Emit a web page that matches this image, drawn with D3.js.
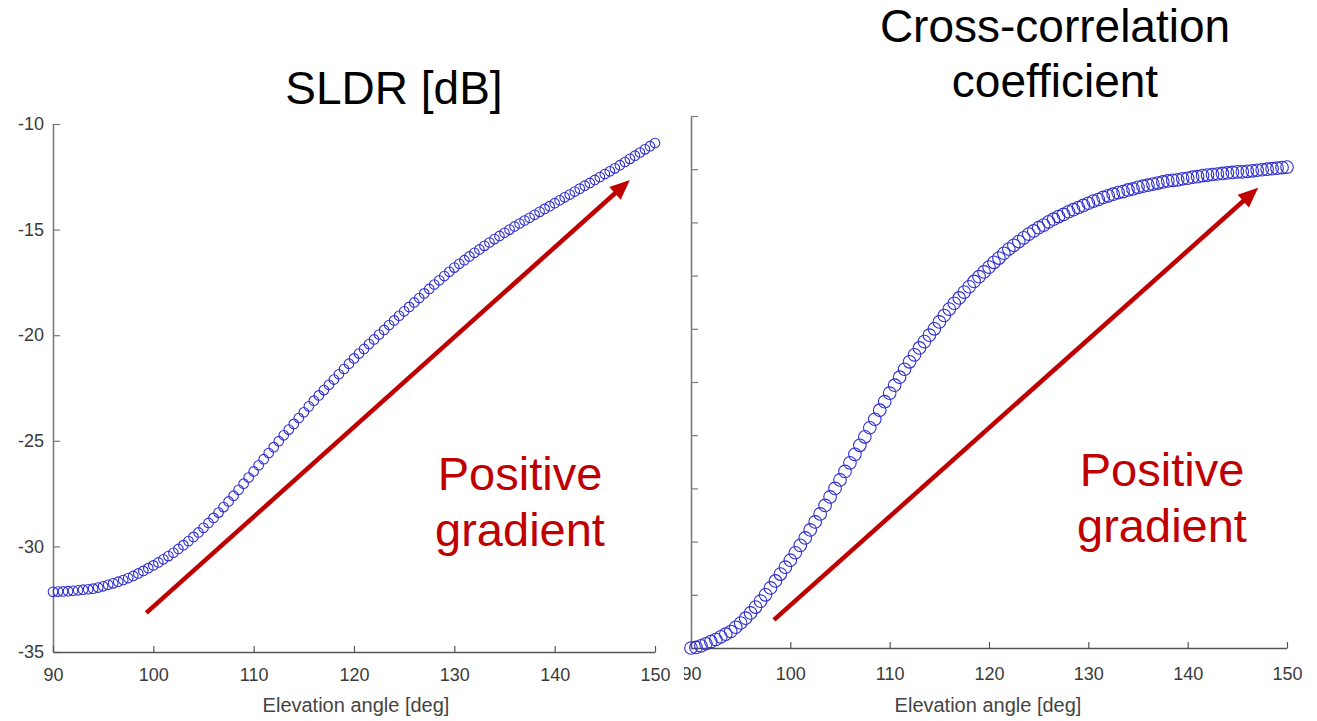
<!DOCTYPE html>
<html>
<head>
<meta charset="utf-8">
<script src="https://cdn.jsdelivr.net/npm/d3@7"></script>
<style>
  body { margin: 0; background: #fff; }
  svg  { display: block; }
  text { font-family: "Liberation Sans", Arial, Helvetica, sans-serif; }
</style>
</head>
<body>
<svg id="chart" width="1317" height="721"></svg>
<script>
// ── Data ─────────────────────────────────────────────
const angles = d3.range(90, 150.001, 0.5)

const sldr = [
  -32.15, -32.14, -32.13, -32.12, -32.10, -32.08, -32.05, -32.03, -32.00, -31.95,
  -31.89, -31.82, -31.75, -31.67, -31.59, -31.50, -31.40, -31.28, -31.16, -31.03,
  -30.90, -30.76, -30.61, -30.46, -30.30, -30.12, -29.94, -29.75, -29.55, -29.34,
  -29.12, -28.89, -28.65, -28.40, -28.14, -27.87, -27.60, -27.32, -27.03, -26.74,
  -26.45, -26.16, -25.87, -25.58, -25.30, -25.02, -24.74, -24.47, -24.20, -23.92,
  -23.65, -23.37, -23.10, -22.85, -22.60, -22.35, -22.10, -21.85, -21.60, -21.35,
  -21.10, -20.87, -20.65, -20.42, -20.20, -19.97, -19.75, -19.52, -19.30, -19.08,
  -18.87, -18.66, -18.45, -18.24, -18.02, -17.81, -17.60, -17.40, -17.20, -17.00,
  -16.80, -16.62, -16.45, -16.27, -16.10, -15.94, -15.77, -15.61, -15.45, -15.30,
  -15.15, -15.00, -14.85, -14.71, -14.57, -14.44, -14.30, -14.16, -14.02, -13.89,
  -13.75, -13.61, -13.47, -13.34, -13.20, -13.06, -12.92, -12.79, -12.65, -12.51,
  -12.37, -12.24, -12.10, -11.95, -11.80, -11.65, -11.50, -11.35, -11.20, -11.05,
  -10.90
]

const rhohv = [
  0.9000, 0.9001, 0.9004, 0.9008, 0.9012, 0.9016, 0.9021, 0.9026, 0.9031, 0.9039,
  0.9047, 0.9056, 0.9066, 0.9077, 0.9088, 0.9100, 0.9113, 0.9126, 0.9139, 0.9152,
  0.9165, 0.9179, 0.9193, 0.9207, 0.9222, 0.9237, 0.9252, 0.9268, 0.9284, 0.9300,
  0.9316, 0.9332, 0.9348, 0.9364, 0.9381, 0.9397, 0.9414, 0.9430, 0.9447, 0.9463,
  0.9479, 0.9494, 0.9509, 0.9524, 0.9538, 0.9551, 0.9564, 0.9576, 0.9588, 0.9600,
  0.9613, 0.9625, 0.9637, 0.9648, 0.9658, 0.9669, 0.9679, 0.9689, 0.9698, 0.9707,
  0.9716, 0.9725, 0.9733, 0.9742, 0.9750, 0.9757, 0.9764, 0.9771, 0.9778, 0.9784,
  0.9790, 0.9795, 0.9801, 0.9806, 0.9811, 0.9815, 0.9820, 0.9824, 0.9828, 0.9832,
  0.9836, 0.9840, 0.9843, 0.9847, 0.9850, 0.9853, 0.9856, 0.9858, 0.9861, 0.9863,
  0.9866, 0.9868, 0.9870, 0.9872, 0.9874, 0.9876, 0.9878, 0.9879, 0.9880, 0.9882,
  0.9883, 0.9885, 0.9886, 0.9888, 0.9889, 0.9890, 0.9891, 0.9892, 0.9893, 0.9894,
  0.9895, 0.9895, 0.9896, 0.9897, 0.9898, 0.9899, 0.9900, 0.9901, 0.9902, 0.9903,
  0.9904
]

const angleTicks = [90, 100, 110, 120, 130, 140, 150]
const sldrTicks  = [-35, -30, -25, -20, -15, -10]
const rhoTicks   = [0.90, 0.91, 0.92, 0.93, 0.94, 0.95, 0.96, 0.97, 0.98, 0.99, 1.00]

const xLabel     = "Elevation angle [deg]"
const arrowText  = ["Positive", "gradient"]

const BLUE = "#2f2fd2"
const RED  = "#c00000"

const svg = d3.select("#chart")

// clip for the right panel (its left edge cuts into the "90" label)
svg.append("defs").append("clipPath").attr("id", "clipR")
  .append("rect").attr("x", 684).attr("y", 0).attr("width", 640).attr("height", 721)

const panels = [
  {
    title: ["SLDR [dB]"], titleX: 394, titleY: [104],
    values: sldr, yDomain: [-35, -10], yTicks: sldrTicks, showY: true,
    xRange: [53, 655], yRange: [652, 124], r: 4.8, xPad: 16,
    arrow: { from: [99.3, -33.15], to: [147.5, -12.65] },
    textX: 520, textY: [490, 546], labelX: 356, clip: null
  },
  {
    title: ["Cross-correlation", "coefficient"], titleX: 1055, titleY: [42, 97],
    values: rhohv, yDomain: [0.90, 1.00], yTicks: rhoTicks, showY: false,
    xRange: [691, 1287], yRange: [648, 116], r: 6.3, xPad: 19,
    arrow: { from: [98.35, 0.9053], to: [147.1, 0.9865] },
    textX: 1162, textY: [486, 542], labelX: 988, clip: "url(#clipR)"
  }
]

panels.forEach(p => {
  const g = svg.append("g").attr("clip-path", p.clip)

  const x = d3.scaleLinear().domain([90, 150]).range(p.xRange)
  const y = d3.scaleLinear().domain(p.yDomain).range(p.yRange)

  // ── Axes ─────────────────────────────────────────
  const yAxis = g.append("g")
    .attr("transform", `translate(${p.xRange[0]},0)`)
    .call(d3.axisLeft(y).tickValues(p.yTicks)
      .tickSizeInner(-7).tickSizeOuter(0).tickPadding(9)
      .tickFormat(p.showY ? d => String(d) : () => ""))
  yAxis.select(".domain").attr("stroke", "#7a7a7a").attr("stroke-width", 1.6)
  yAxis.selectAll(".tick line").attr("stroke", "#7a7a7a").attr("stroke-width", 1.2)
  yAxis.selectAll(".tick text")
    .attr("font-size", 18).attr("fill", "#3a3a3a")
    .attr("font-family", "'Liberation Sans', Arial, sans-serif")

  const xAxis = g.append("g")
    .attr("transform", `translate(0,${p.yRange[0]})`)
    .call(d3.axisBottom(x).tickValues(angleTicks)
      .tickSizeInner(-6).tickSizeOuter(0).tickPadding(p.xPad))
  xAxis.select(".domain").attr("stroke", "#555").attr("stroke-width", 1.6)
  xAxis.selectAll(".tick line").attr("stroke", "#555").attr("stroke-width", 1.2)
  xAxis.selectAll(".tick text")
    .attr("font-size", 18).attr("fill", "#3a3a3a")
    .attr("font-family", "'Liberation Sans', Arial, sans-serif")

  g.append("text")
    .attr("x", p.labelX).attr("y", 712)
    .attr("text-anchor", "middle")
    .attr("font-size", 20).attr("fill", "#444")
    .text(xLabel)

  // ── Markers ──────────────────────────────────────
  g.append("g").selectAll("circle")
    .data(angles.map((a, i) => [a, p.values[i]]))
    .join("circle")
      .attr("cx", d => x(d[0]))
      .attr("cy", d => y(d[1]))
      .attr("r", p.r)
      .attr("fill", "none")
      .attr("stroke", BLUE)
      .attr("stroke-width", 1.1)

  // ── Arrow annotation ─────────────────────────────
  const x0 = x(p.arrow.from[0]), y0 = y(p.arrow.from[1])
  const x1 = x(p.arrow.to[0]),   y1 = y(p.arrow.to[1])
  const ang = Math.atan2(y1 - y0, x1 - x0)
  const headL = 20, headW = 8.5
  const bx = x1 - headL * Math.cos(ang), by = y1 - headL * Math.sin(ang)
  const nx = -Math.sin(ang), ny = Math.cos(ang)

  g.append("line")
    .attr("x1", x0).attr("y1", y0)
    .attr("x2", bx + 2 * Math.cos(ang)).attr("y2", by + 2 * Math.sin(ang))
    .attr("stroke", RED).attr("stroke-width", 4.5)
  g.append("polygon")
    .attr("points", [[x1, y1], [bx + nx * headW, by + ny * headW], [bx - nx * headW, by - ny * headW]].join(" "))
    .attr("fill", RED)

  g.selectAll("text.note")
    .data(arrowText)
    .join("text")
      .attr("class", "note")
      .attr("x", p.textX)
      .attr("y", (_, i) => p.textY[i])
      .attr("text-anchor", "middle")
      .attr("font-size", 47)
      .attr("fill", RED)
      .text(d => d)

  // ── Title ────────────────────────────────────────
  svg.selectAll(null)
    .data(p.title)
    .join("text")
      .attr("x", p.titleX)
      .attr("y", (_, i) => p.titleY[i])
      .attr("text-anchor", "middle")
      .attr("font-size", 46)
      .attr("fill", "#000")
      .text(d => d)
})
</script>
</body>
</html>
